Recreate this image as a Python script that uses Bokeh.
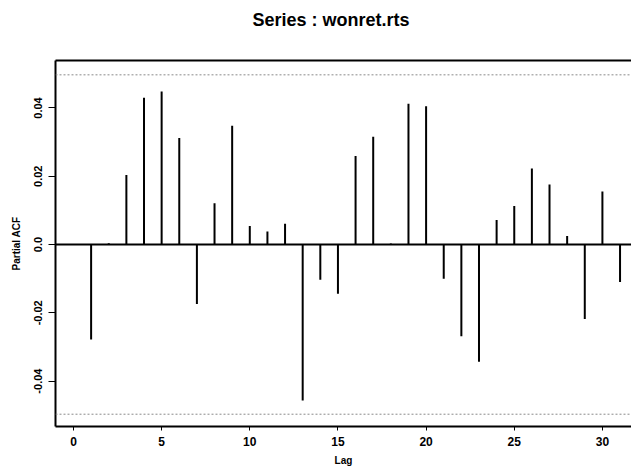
from bokeh.plotting import figure
from bokeh.models import Range1d, LinearAxis, FixedTicker, Span
from bokeh.embed import file_html
from bokeh.resources import INLINE

# Partial autocorrelations of wonret.rts, lags 1..31
lags = list(range(1, 32))
pacf = [-0.0278, 0.0004, 0.0204, 0.0430, 0.0448, 0.0312, -0.0174, 0.0121,
        0.0348, 0.0054, 0.0038, 0.0061, -0.0457, -0.0103, -0.0144, 0.0259,
        0.0316, 0.0003, 0.0412, 0.0405, -0.0100, -0.0269, -0.0343, 0.0072,
        0.0113, 0.0223, 0.0176, 0.0025, -0.0218, 0.0155, -0.0110]
conf_limit = 0.0497

x_ticks = [0, 5, 10, 15, 20, 25, 30]
y_ticks = [-0.04, -0.02, 0.0, 0.02, 0.04]
y_labels = {-0.04: "-0.04", -0.02: "-0.02", 0: "0.0", 0.02: "0.02", 0.04: "0.04"}
title_text = "Series : wonret.rts"

FONT = "Liberation Sans"

p = figure(width=631, height=470,
           x_range=Range1d(-1.02, 31.65), y_range=Range1d(-0.0533, 0.0539),
           output_backend="svg", toolbar_location=None,
           min_border_left=55, min_border_right=0,
           min_border_top=60, min_border_bottom=44)
p.outline_line_color = None
p.grid.visible = False
p.background_fill_color = "white"
p.border_fill_color = "white"

# title
p.title.text = title_text
p.title.text_font = FONT
p.title.text_font_style = "bold"
p.title.text_font_size = "18px"
p.title.text_color = "black"
p.title.align = "left"
p.title.offset = 197
p.title.vertical_align = "top"
p.title.standoff = 8

# confidence bounds and zero line
for loc in (conf_limit, -conf_limit):
    p.add_layout(Span(location=loc, dimension="width", line_color="#8a8a8a",
                      line_width=1, line_dash="2 2"))
p.add_layout(Span(location=0, dimension="width", line_color="black", line_width=2))

# one spike per lag
p.segment(x0=lags, y0=[0] * len(lags), x1=lags, y1=pacf,
          line_color="black", line_width=2)

# bottom axis
xa = p.xaxis[0]
xa.ticker = FixedTicker(ticks=x_ticks)
xa.axis_line_width = 2
xa.major_tick_in = 0
xa.major_tick_out = 4
xa.minor_tick_line_color = None
xa.major_label_text_font = FONT
xa.major_label_text_font_style = "bold"
xa.major_label_text_font_size = "12px"
xa.major_label_text_color = "black"
xa.major_label_standoff = 6
xa.axis_label = "Lag"
xa.axis_label_text_font = FONT
xa.axis_label_text_font_style = "bold"
xa.axis_label_text_font_size = "10px"
xa.axis_label_text_color = "black"
xa.axis_label_standoff = 6

# left axis
ya = p.yaxis[0]
ya.ticker = FixedTicker(ticks=y_ticks)
ya.major_label_overrides = y_labels
ya.major_label_orientation = "vertical"
ya.axis_line_width = 2
ya.major_tick_in = 0
ya.major_tick_out = 7
ya.minor_tick_line_color = None
ya.major_label_text_font = FONT
ya.major_label_text_font_style = "bold"
ya.major_label_text_font_size = "11px"
ya.major_label_text_color = "black"
ya.major_label_standoff = 6
ya.axis_label = "Partial ACF"
ya.axis_label_text_font = FONT
ya.axis_label_text_font_style = "bold"
ya.axis_label_text_font_size = "10px"
ya.axis_label_text_color = "black"
ya.axis_label_standoff = 10

# top border drawn as a bare axis line; its blank label keeps a gap under the title
top = LinearAxis(ticker=FixedTicker(ticks=[]), axis_line_width=2,
                 major_tick_in=0, major_tick_out=0, major_label_standoff=0,
                 major_tick_line_color=None, minor_tick_line_color=None,
                 major_label_text_font_size="0px",
                 axis_label=" ", axis_label_text_font_size="10px",
                 axis_label_standoff=11)
p.add_layout(top, "above")

open("out.html", "w").write(file_html(p, INLINE))
